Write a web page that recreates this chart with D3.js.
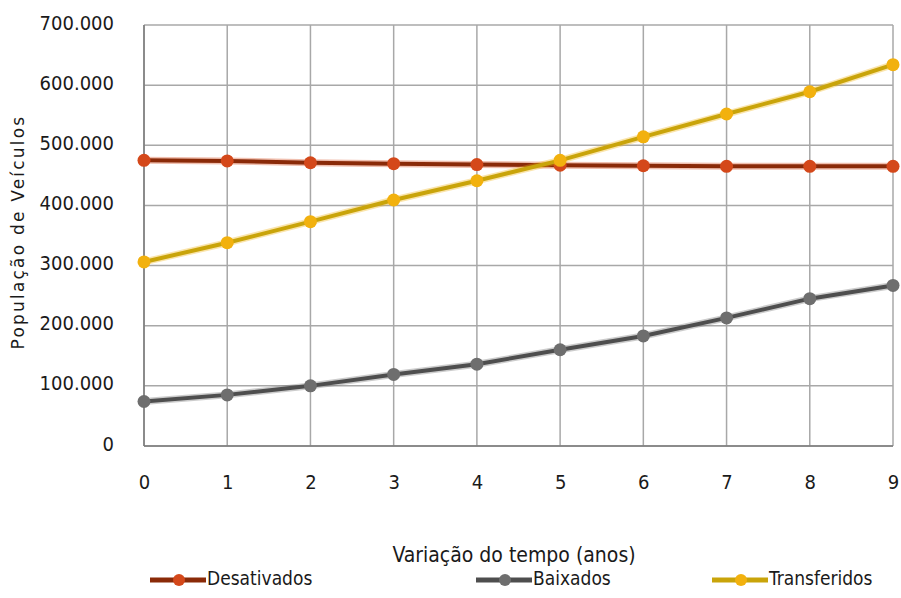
<!DOCTYPE html>
<html><head><meta charset="utf-8">
<script src="https://cdn.jsdelivr.net/npm/d3@7"></script>
<style>body{margin:0;background:#fff}svg{display:block}</style>
</head><body>
<svg id="c" width="901" height="598"></svg>
<script>
const years = [0,1,2,3,4,5,6,7,8,9];
const desativados = [475000,474000,471000,469500,468000,467000,466000,465000,465000,465000];
const baixados = [74000,85000,100000,119000,136000,160000,183000,213000,245000,267000];
const transferidos = [306000,338000,373000,409000,441000,475000,514000,552000,589000,634000];
const yTicks = [0,100000,200000,300000,400000,500000,600000,700000];
const seriesNames = ["Desativados","Baixados","Transferidos"];
const lineColors = ["#8a2a08","#4e4e4e","#c9a40a"];
const markColors = ["#d4481a","#6e6e6e","#f2b10e"];

const svg = d3.select("#c");
const x = d3.scaleLinear().domain([0,9]).range([144,893]);
const y = d3.scaleLinear().domain([0,700000]).range([446,25]);
const fmt = v => v===0 ? "0" : d3.format(",")(v).replace(/,/g,".");
const condensed = "'DejaVu Sans Condensed','DejaVu Sans',sans-serif";

// grid
svg.append("g").selectAll("line").data(yTicks).join("line")
  .attr("x1",x(0)).attr("x2",x(9)).attr("y1",d=>y(d)).attr("y2",d=>y(d))
  .attr("stroke","#a8a8a8").attr("stroke-width",1.5);
svg.append("g").selectAll("line").data(years).join("line")
  .attr("x1",d=>x(d)).attr("x2",d=>x(d)).attr("y1",y(0)).attr("y2",y(700000))
  .attr("stroke","#a8a8a8").attr("stroke-width",1.5);
svg.append("line").attr("x1",x(0)).attr("x2",x(0)).attr("y1",y(0)).attr("y2",y(700000)).attr("stroke","#7a7a7a").attr("stroke-width",1.5);
svg.append("line").attr("x1",x(0)).attr("x2",x(9)).attr("y1",y(0)).attr("y2",y(0)).attr("stroke","#7a7a7a").attr("stroke-width",1.5);

// axis labels
const yAxis = d3.axisLeft(y).tickValues(yTicks).tickFormat(fmt).tickSize(0).tickPadding(30);
const gy = svg.append("g").attr("transform",`translate(${x(0)},0)`).call(yAxis);
gy.select(".domain").remove();
gy.selectAll("text").attr("font-family",condensed)
  .attr("font-size",20).attr("fill","#1a1a1a").attr("dy","0.3em")
  .attr("transform","translate(0,-2)");

const xAxis = d3.axisBottom(x).tickValues(years).tickFormat(d3.format("d")).tickSize(0).tickPadding(29);
const gx = svg.append("g").attr("transform",`translate(0,${y(0)})`).call(xAxis);
gx.select(".domain").remove();
gx.selectAll("text").attr("font-family",condensed)
  .attr("font-size",20).attr("fill","#1a1a1a");

svg.append("text").attr("transform","translate(18,232) rotate(-90)").attr("text-anchor","middle")
  .attr("dy","0.35em")
  .attr("font-family","'DejaVu Sans',sans-serif").attr("font-size",17).attr("letter-spacing","2.2")
  .attr("fill","#1a1a1a").text("População de Veículos");
svg.append("text").attr("x",514).attr("y",555).attr("dy","0.35em").attr("text-anchor","middle")
  .attr("font-family",condensed).attr("font-size",21)
  .attr("fill","#1a1a1a").text("Variação do tempo (anos)");

// series
const all = [desativados,baixados,transferidos];
const line = d3.line().x((d,i)=>x(years[i])).y(d=>y(d));
all.forEach((vals,k)=>{
  svg.append("path").datum(vals).attr("d",line).attr("fill","none")
    .attr("stroke",markColors[k]).attr("stroke-opacity",0.35).attr("stroke-width",7);
  svg.append("path").datum(vals).attr("d",line).attr("fill","none")
    .attr("stroke",lineColors[k]).attr("stroke-width",4);
  svg.append("g").selectAll("circle").data(vals).join("circle")
    .attr("cx",(d,i)=>x(years[i])).attr("cy",d=>y(d)).attr("r",6.5)
    .attr("fill",markColors[k]);
});

// legend
const legX = [150,476,712];
seriesNames.forEach((n,k)=>{
  const g = svg.append("g").attr("transform",`translate(${legX[k]},580)`);
  g.append("line").attr("x1",0).attr("x2",56).attr("y1",0).attr("y2",0)
    .attr("stroke",lineColors[k]).attr("stroke-width",5);
  g.append("circle").attr("cx",29).attr("cy",0).attr("r",6).attr("fill",markColors[k]);
  g.append("text").attr("x",57).attr("y",-2).attr("dy","0.35em")
    .attr("font-family",condensed).attr("font-size",19)
    .attr("fill","#1a1a1a").text(n);
});
</script>
</body></html>
